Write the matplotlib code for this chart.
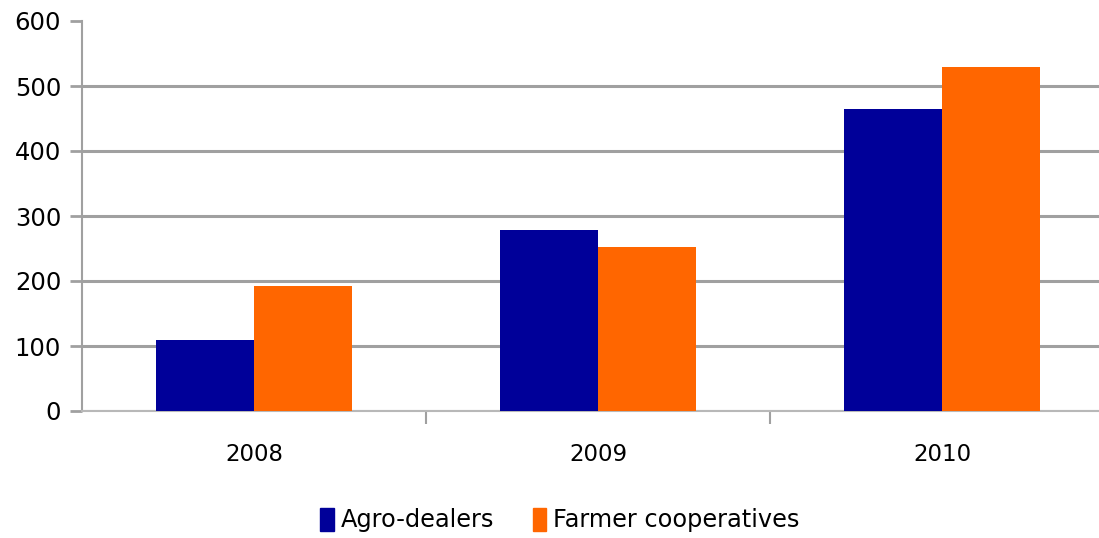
import numpy as np
import matplotlib.pyplot as plt
from matplotlib.patches import Patch

# Datos del grafico
anios = ['2008', '2009', '2010']
agro_dealers = [109, 278, 465]
cooperativas = [192, 252, 529]

azul = '#000099'
naranja = '#FF6600'
gris = '#A0A0A0'

plt.rcParams['font.family'] = ['DejaVu Sans']

fig = plt.figure(figsize=(10.99, 5.38), dpi=100)
ax = fig.add_axes([82 / 1099, 127 / 538, 1032 / 1099, 390 / 538])

x = np.arange(len(anios))
ancho = 0.285
ax.bar(x - ancho / 2, agro_dealers, ancho, color=azul, zorder=3, label='Agro-dealers')
ax.bar(x + ancho / 2, cooperativas, ancho, color=naranja, zorder=3, label='Farmer cooperatives')

ax.set_xlim(-0.5, 2.5)
ax.set_ylim(0, 600)
ax.set_yticks(range(0, 601, 100))
ax.yaxis.grid(True, color=gris, linewidth=2.2, zorder=0)
ax.set_axisbelow(True)
# sin linea de rejilla en el tope
ax.get_ygridlines()[-1].set_visible(False)

# Ejes y marcas
for lado in ['top', 'right']:
    ax.spines[lado].set_visible(False)
ax.spines['left'].set_color(gris)
ax.spines['left'].set_linewidth(1.5)
ax.spines['bottom'].set_color('#B8B8B8')
ax.spines['bottom'].set_linewidth(1.5)

ax.set_xticks(x)
ax.set_xticklabels(anios)
ax.set_xticks([0.5, 1.5], minor=True)
ax.tick_params(axis='x', which='major', length=0, pad=23, labelsize=16.5)
ax.tick_params(axis='x', which='minor', length=9, width=1.5, color=gris)
ax.tick_params(axis='y', length=9, width=2, color=gris, pad=6, labelsize=17.5)

manejadores = [Patch(color=azul), Patch(color=naranja)]
fig.legend(manejadores, ['Agro-dealers', 'Farmer cooperatives'],
           loc='center', bbox_to_anchor=(560 / 1099, 18 / 538), ncol=2,
           frameon=False, fontsize=17.3, handlelength=0.55, handleheight=1.1,
           handletextpad=0.3, columnspacing=1.6)

fig.savefig('out.png', dpi=100)
